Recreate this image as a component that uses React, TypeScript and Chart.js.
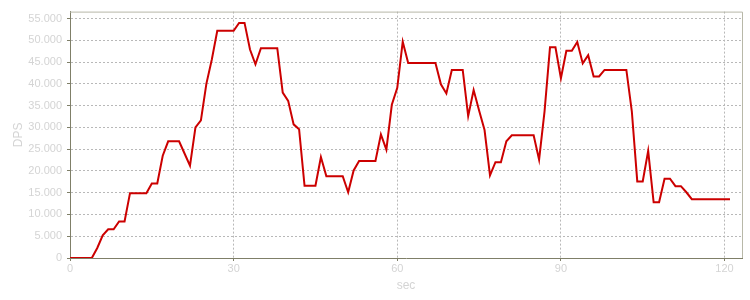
import React, { useEffect, useRef } from "react";
import { Chart, registerables } from "chart.js";

Chart.register(...registerables);

const seconds: number[] = Array.from({ length: 122 }, (_, i) => i);

const dps: number[] = [
  0, 0, 0, 0, 0, 2300, 5200, 6600, 6600, 8400,
  8400, 14900, 14900, 14900, 14900, 17100, 17100, 23500, 26800, 26800,
  26800, 24000, 21200, 30000, 31600, 40000, 45600, 52200, 52200, 52200,
  52200, 54000, 54000, 47900, 44500, 48200, 48200, 48200, 48200, 38000,
  36100, 30700, 29600, 16600, 16600, 16600, 23200, 18800, 18800, 18800,
  18800, 15100, 20100, 22300, 22300, 22300, 22300, 28400, 24900, 35200,
  39100, 49700, 44800, 44800, 44800, 44800, 44800, 44800, 39900, 37800,
  43200, 43200, 43200, 32600, 38600, 33900, 29400, 19000, 22000, 22000,
  26800, 28200, 28200, 28200, 28200, 28200, 22600, 33700, 48400, 48400,
  41300, 47600, 47600, 49600, 44700, 46600, 41700, 41700, 43200, 43200,
  43200, 43200, 43200, 33700, 17600, 17600, 24600, 12800, 12800, 18200,
  18200, 16500, 16500, 15100, 13500, 13500, 13500, 13500, 13500, 13500,
  13500, 13500,
];

const xTickValues: number[] = [0, 30, 60, 90, 120];
const yTickValues: number[] = [
  0, 5000, 10000, 15000, 20000, 25000, 30000, 35000, 40000, 45000, 50000, 55000,
];
const xTitle = "sec";
const yTitle = "DPS";

const fmt = (v: number) =>
  String(Math.round(v)).replace(/\B(?=(\d{3})+(?!\d))/g, ".");

const borderPlugin = {
  id: "topRightBorder",
  afterDraw(chart: any) {
    const { ctx, chartArea } = chart;
    ctx.save();
    ctx.strokeStyle = "#b8b8a8";
    ctx.lineWidth = 1;
    ctx.beginPath();
    ctx.moveTo(chartArea.left, chartArea.top + 0.5);
    ctx.lineTo(chartArea.right + 0.5, chartArea.top + 0.5);
    ctx.lineTo(chartArea.right + 0.5, chartArea.bottom);
    ctx.stroke();
    ctx.restore();
  },
};

const whiteBg = {
  id: "whiteBg",
  beforeDraw(chart: any) {
    const { ctx, width, height } = chart;
    ctx.save();
    ctx.fillStyle = "#ffffff";
    ctx.fillRect(0, 0, width, height);
    ctx.restore();
  },
};

export default function App() {
  const ref = useRef<HTMLCanvasElement | null>(null);

  useEffect(() => {
    if (!ref.current) return;
    const textColor = "#d4d4d4";
    const gridColor = "#b8b8b8";
    const axisColor = "#7f7f68";
    const chart = new Chart(ref.current, {
      type: "line",
      data: {
        datasets: [
          {
            data: seconds.map((s, i) => ({ x: s, y: dps[i] })),
            borderColor: "#cc0000",
            borderWidth: 2,
            pointRadius: 0,
            tension: 0,
            fill: false,
          },
        ],
      },
      plugins: [whiteBg, borderPlugin],
      options: {
        animation: false,
        responsive: false,
        layout: { padding: { top: 4, right: 8, left: 0, bottom: 0 } },
        plugins: {
          legend: { display: false },
          tooltip: { enabled: false },
        },
        scales: {
          x: {
            type: "linear",
            min: 0,
            max: 123.2,
            afterBuildTicks: (scale: any) => {
              scale.ticks = xTickValues.map((v) => ({ value: v }));
            },
            afterFit: (scale: any) => {
              scale.height = 42;
            },
            ticks: {
              color: textColor,
              font: { family: "'Liberation Sans', Arial", size: 11 },
              padding: 1,
              maxRotation: 0,
              autoSkip: false,
              callback: (v: any) => String(v),
            },
            grid: {
              color: gridColor,
              lineWidth: 1,
              tickLength: 3,
              tickColor: axisColor,
            },
            border: { color: axisColor, width: 1, dash: [2, 2] },
            title: {
              display: true,
              text: xTitle,
              color: textColor,
              font: { family: "'Liberation Sans', Arial", size: 12 },
              padding: { top: 0, bottom: 7 },
            },
          },
          y: {
            type: "linear",
            min: 0,
            max: 56600,
            afterBuildTicks: (scale: any) => {
              scale.ticks = yTickValues.map((v) => ({ value: v }));
            },
            afterFit: (scale: any) => {
              scale.width = 70;
            },
            ticks: {
              color: textColor,
              font: { family: "'Liberation Sans', Arial", size: 11 },
              padding: 5,
              autoSkip: false,
              callback: (v: any) => fmt(Number(v)),
            },
            grid: {
              color: gridColor,
              lineWidth: 1,
              tickLength: 3,
              tickColor: axisColor,
            },
            border: { color: axisColor, width: 1, dash: [2, 2] },
            title: {
              display: true,
              text: yTitle,
              color: textColor,
              font: { family: "'Liberation Sans', Arial", size: 12 },
              padding: { top: 11, bottom: 0 },
            },
          },
        },
      },
    } as any);
    return () => chart.destroy();
  }, []);

  return (
    <div style={{ position: "absolute", left: 0, top: 0, width: 750, height: 300 }}>
      <canvas ref={ref} width={750} height={300} style={{ display: "block" }} />
    </div>
  );
}
